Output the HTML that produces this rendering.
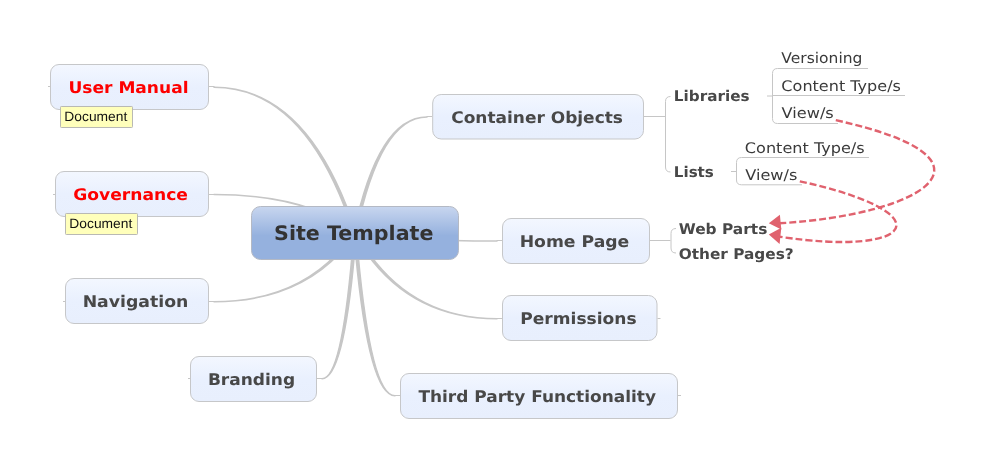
<!DOCTYPE html>
<html><head><meta charset="utf-8"><title>Site Template</title>
<style>
html,body{margin:0;padding:0;background:#fff;}
body{width:1000px;height:465px;overflow:hidden;}
svg{display:block;will-change:transform;}
text{font-family:"DejaVu Sans","Liberation Sans",sans-serif;white-space:pre;text-rendering:geometricPrecision;}
.c{font-weight:bold;font-size:20px;fill:#333;}
.b{font-weight:bold;font-size:16px;fill:#484848;}
.r{fill:#fe0000;}
.s{font-weight:bold;font-size:14.670px;fill:#484848;}
.t{font-size:14.670px;fill:#3a3a3a;}
.d{font-family:"Liberation Sans",sans-serif;font-size:13.500px;fill:#111;}
.n{fill:url(#g1);stroke:#c6c7c9;stroke-width:1;}
.l{fill:none;stroke:#c6c6c6;stroke-width:1;}
</style></head><body>
<svg width="1000" height="465" viewBox="0 0 1000 465">
<defs>
<linearGradient id="g1" x1="0" y1="0" x2="0" y2="1"><stop offset="0" stop-color="#f3f7ff"/><stop offset="0.500" stop-color="#e9f0fe"/><stop offset="1" stop-color="#e8effd"/></linearGradient>
<linearGradient id="g2" x1="0" y1="0" x2="0" y2="1"><stop offset="0" stop-color="#c8d6ef"/><stop offset="0.550" stop-color="#95b1de"/><stop offset="1" stop-color="#95b1de"/></linearGradient>
</defs>
<g id="links" fill="#c6c6c6" stroke="#c6c6c6" stroke-width="1.500" stroke-linejoin="round">
<path d="M214,87.3 Q306.56,87.3 353.8,233 L356.2,233 Q308.96,87.3 214,87.3Z"/>
<path d="M214,194.6 Q306.56,194.6 353.8,233 L356.2,233 Q308.96,194.6 214,194.6Z"/>
<path d="M214,301.7 Q306.56,301.7 353.8,233 L356.2,233 Q308.96,301.7 214,301.7Z"/>
<path d="M322,378.7 Q342.75,378.7 353.8,233 L356.2,233 Q345.14,378.7 322,378.7Z"/>
<path d="M427,117 Q377.92,117 353.8,233 L356.2,233 Q380.32,117 427,117Z"/>
<path d="M497,241.1 Q401.37,241.1 353.8,233 L356.2,233 Q403.77,241.1 497,241.1Z"/>
<path d="M497,318.7 Q401.37,318.7 353.8,233 L356.2,233 Q403.77,318.7 497,318.7Z"/>
<path d="M395,395.7 Q367.2,395.7 353.8,233 L356.2,233 Q369.6,395.7 395,395.7Z"/>
</g>
<path class="l" d="M209,86.5 H214.5 M48,86.5 H50 M209,194.5 H214.5 M53,194.5 H55 M209,301.5 H214.5 M63,301.5 H65 M317,378.5 H322.5 M188,378.5 H190 M426.5,116.5 H432 M496.5,240.5 H502 M496.5,318.5 H502 M657.5,318.5 H660.5 M394.5,395.5 H400 M678,395.5 H681"/>
<g id="nodes">
<rect class="n" x="50.5" y="64.5" width="158" height="45" rx="8.500"/>
<rect class="n" x="55.5" y="171.5" width="153" height="45" rx="8.500"/>
<rect class="n" x="65.5" y="278.5" width="143" height="45" rx="8.500"/>
<rect class="n" x="190.5" y="356.5" width="126" height="45" rx="8.500"/>
<rect class="n" x="432.7" y="94.5" width="210.8" height="44.5" rx="8.500"/>
<rect class="n" x="502.5" y="218.5" width="147" height="45" rx="8.500"/>
<rect class="n" x="502.5" y="295.5" width="154.5" height="45" rx="8.500"/>
<rect class="n" x="400.5" y="373.5" width="277" height="45" rx="8.500"/>
<rect x="251.500" y="206.500" width="207" height="53" rx="9" fill="url(#g2)" stroke="#b4b9c4"/>
</g>
<g id="tags">
<rect x="60.500" y="106.500" width="72" height="21" rx="0.800" fill="#ffffbb" stroke="#b9b9b4"/>
<rect x="65.500" y="213.500" width="72" height="21" rx="0.800" fill="#ffffbb" stroke="#b9b9b4"/>
</g>
<g id="labels">
<text id="c0" class="c" x="274.06" y="240" textLength="159.34" lengthAdjust="spacingAndGlyphs">Site Template</text>
<text id="b0" class="b r" x="68.45" y="93" textLength="120.09" lengthAdjust="spacingAndGlyphs">User Manual</text>
<text id="b1" class="b r" x="73.32" y="200" textLength="114.65" lengthAdjust="spacingAndGlyphs">Governance</text>
<text id="b2" class="b" x="82.66" y="307" textLength="105.74" lengthAdjust="spacingAndGlyphs">Navigation</text>
<text id="b3" class="b" x="207.92" y="385" textLength="87.24" lengthAdjust="spacingAndGlyphs">Branding</text>
<text id="b4" class="b" x="451.21" y="123" textLength="171.72" lengthAdjust="spacingAndGlyphs">Container Objects</text>
<text id="b5" class="b" x="519.65" y="247" textLength="109.66" lengthAdjust="spacingAndGlyphs">Home Page</text>
<text id="b6" class="b" x="520.25" y="324" textLength="116.35" lengthAdjust="spacingAndGlyphs">Permissions</text>
<text id="b7" class="b" x="418.41" y="402" textLength="237.62" lengthAdjust="spacingAndGlyphs">Third Party Functionality</text>
<text id="s0" class="s" x="673.85" y="101" textLength="75.68" lengthAdjust="spacingAndGlyphs">Libraries</text>
<text id="s1" class="s" x="673.83" y="177" textLength="40.02" lengthAdjust="spacingAndGlyphs">Lists</text>
<text id="s2" class="s" x="678.74" y="234" textLength="88.65" lengthAdjust="spacingAndGlyphs">Web Parts</text>
<text id="s3" class="s" x="678.76" y="259" textLength="114.92" lengthAdjust="spacingAndGlyphs">Other Pages?</text>
<text id="t0" class="t" x="781.39" y="63" textLength="80.99" lengthAdjust="spacingAndGlyphs">Versioning</text>
<text id="t1" class="t" x="781.37" y="91" textLength="119.55" lengthAdjust="spacingAndGlyphs">Content Type/s</text>
<text id="t2" class="t" x="781.54" y="118" textLength="52.23" lengthAdjust="spacingAndGlyphs">View/s</text>
<text id="t3" class="t" x="744.86" y="153" textLength="119.74" lengthAdjust="spacingAndGlyphs">Content Type/s</text>
<text id="t4" class="t" x="745.22" y="180" textLength="52.11" lengthAdjust="spacingAndGlyphs">View/s</text>
<text id="d0" class="d" x="64.33" y="121" textLength="62.97" lengthAdjust="spacingAndGlyphs">Document</text>
<text id="d1" class="d" x="69.33" y="228" textLength="62.97" lengthAdjust="spacingAndGlyphs">Document</text>
</g>
<g id="sub" class="l">
<path d="M644,116.500 H665 M670.500,96.500 Q665.500,96.500 665.500,101.500 V167 Q665.500,172 670.500,172"/>
<path d="M650,240.500 H670.500 M676,228.500 Q671,228.500 671,233.500 V248 Q671,253 676,253"/>
<path d="M767,96 H772.500 M868,68.500 H777.500 Q772.500,68.500 772.500,73.500 V118.500 Q772.500,123.500 777.500,123.500 H838 M772.500,95.500 H905"/>
<path d="M731,171.500 H736 M869,157.500 H741.500 Q736.500,157.500 736.500,162.500 V180 Q736.500,184.800 741.500,184.800 H802"/>
</g>
<g id="rel" fill="none" stroke="#e0626e" stroke-width="2.400" stroke-dasharray="7 3">
<path d="M835.800,120.200 C1012.500,159 925.300,214.600 779,223.300"/>
<path d="M799.800,181.300 C947.500,213.600 914.200,257.400 779,236.600"/>
</g>
<g fill="#e0626e">
<path d="M768.800,223.300 L779.900,214.800 L781.300,229.500 Z"/>
<path d="M768.800,234.500 L781.300,227.700 L779.600,244 Z"/>
</g>
</svg>
</body></html>
